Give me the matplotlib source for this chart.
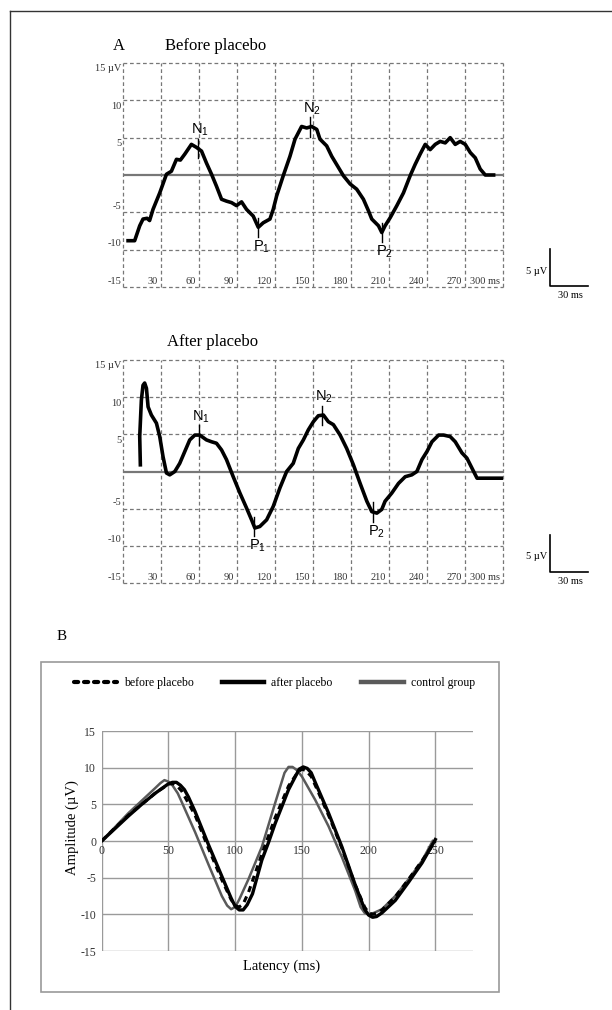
import numpy as np
import matplotlib
matplotlib.use("Agg")
from matplotlib import pyplot as plt
from matplotlib.lines import Line2D
from matplotlib.patches import Rectangle

plt.rcParams['font.family'] = ['Liberation Serif', 'DejaVu Serif']
plt.rcParams['axes.unicode_minus'] = False

# ---- panel A: single ERP traces (latency in ms, amplitude in uV) ----
before_lat = [4, 9.2, 13.2, 15.8, 19, 21, 23.7, 29, 34.3, 38.2, 42.2, 45.3, 48.8, 54, 58, 62,
              65.9, 69.9, 73.8, 77.8, 81.7, 85.7, 89.6, 93.6, 97.5, 102.8, 106.8, 110.7, 116,
              118.6, 121.3, 126.5, 131.8, 135.8, 141, 145, 149, 153, 155.5, 160.8, 164.8, 168.7,
              174, 179.3, 184.5, 189.8, 193.8, 196.4, 201.7, 204.3, 206.9, 211, 216.2, 221.4,
              226.7, 230.6, 234.6, 238.6, 242.5, 246.5, 250.4, 254.4, 258.3, 262.3, 266.2,
              270.2, 274.2, 278.1, 282, 286, 292.6]
before_amp = [-8.8, -8.8, -6.8, -5.9, -5.8, -6.1, -4.6, -2.4, 0.1, 0.5, 2.1, 2.0, 2.8, 4.1, 3.7,
              3.2, 1.6, 0.1, -1.5, -3.25, -3.5, -3.7, -4.1, -3.6, -4.6, -5.5, -7.0, -6.4, -5.9,
              -4.6, -2.8, -0.1, 2.5, 4.8, 6.5, 6.3, 6.5, 6.1, 4.8, 3.9, 2.5, 1.4, -0.1, -1.2,
              -1.9, -3.25, -4.8, -5.9, -6.8, -7.7, -6.8, -5.7, -4.1, -2.4, -0.1, 1.4, 2.8, 4.1,
              3.4, 4.1, 4.5, 4.3, 5.0, 4.1, 4.5, 4.1, 3.0, 2.3, 0.8, 0.0, 0.0]

after_lat = [13.7, 13.2, 14.5, 15.8, 17.1, 18.5, 19.8, 22.4, 26.4, 29, 31.6, 34.3, 36.9, 40.9,
             44.8, 48.8, 52.7, 56.7, 60.6, 65.9, 69.9, 73.8, 77.8, 81.7, 87, 92.3, 97.5, 101.5,
             104.1, 108, 113.4, 118.6, 123.9, 129.2, 134.4, 138.4, 142.4, 146.3, 150.3, 154.2,
             158.2, 162.1, 166.1, 171.4, 176.6, 181.9, 187.2, 192.5, 196.4, 200.4, 204.3, 206.9,
             212.2, 217.5, 222.8, 228, 232, 236, 240, 243.9, 249.2, 253.1, 258.3, 262.3, 267.6,
             271.5, 275.5, 279.5, 299.2]
after_amp = [0.9, 4.7, 9.6, 11.6, 11.9, 11.2, 8.7, 7.6, 6.5, 4.7, 2.0, -0.2, -0.45, 0.0, 1.1,
             2.7, 4.25, 4.9, 4.9, 4.25, 4.0, 3.8, 2.9, 1.6, -0.7, -2.9, -4.9, -6.5, -7.6, -7.4,
             -6.5, -4.7, -2.2, 0.0, 1.1, 3.1, 4.25, 5.6, 6.7, 7.5, 7.6, 6.7, 6.3, 4.9, 3.1, 0.9,
             -1.6, -4.0, -5.4, -5.6, -5.1, -4.0, -2.9, -1.6, -0.7, -0.45, 0.0, 1.6, 2.7, 4.0,
             4.9, 4.9, 4.7, 4.0, 2.5, 1.8, 0.45, -0.9, -0.9]

peak_names = ['N1', 'P1', 'N2', 'P2']
before_peaks = [59.3, 106.8, 147.6, 204.3]
after_peaks = [60.1, 103.6, 156.9, 197.7]

a_xticks = [30, 60, 90, 120, 150, 180, 210, 240, 270, 300]
a_yticks = [-15, -10, -5, 5, 10, 15]

# ---- panel B: grand average waveforms ----
ctrl_lat = [0, 10, 20, 30, 40, 44, 47, 50, 53, 57, 60, 70, 80, 90, 94, 97, 100, 103, 110, 120,
            130, 137, 140, 143, 146, 150, 160, 170, 180, 190, 194, 197, 200, 204, 210, 220, 230,
            240, 248]
ctrl_amp = [0, 1.9, 3.8, 5.5, 7.2, 7.9, 8.3, 8.1, 7.6, 6.5, 5.3, 1.2, -3.2, -7.5, -8.8, -9.3,
            -9.0, -8.0, -5.2, -0.8, 5.2, 9.3, 10.1, 10.1, 9.7, 8.8, 5.6, 2.0, -2.2, -6.8, -9.0,
            -9.8, -10.0, -9.8, -9.3, -7.5, -5.2, -2.7, 0.0]

after_b_lat = [0, 10, 20, 30, 40, 50, 53, 56, 59, 62, 65, 70, 80, 90, 97, 100, 103, 106, 109,
               113, 120, 125, 130, 140, 148, 151, 154, 157, 160, 170, 180, 190, 197, 200, 203,
               206, 210, 220, 230, 240, 250]
after_b_amp = [0, 1.7, 3.4, 5.0, 6.5, 7.8, 8.0, 8.0, 7.6, 7.0, 6.0, 4.0, -0.5, -4.8, -7.8, -8.9,
               -9.4, -9.4, -8.7, -7.2, -2.6, -0.2, 2.4, 7.0, 9.8, 10.1, 9.9, 9.3, 8.0, 3.8, -0.8,
               -6.0, -9.3, -10.1, -10.4, -10.3, -9.8, -8.1, -5.6, -3.0, 0.2]

before_b_lat = [0, 10, 20, 30, 40, 48, 51, 54, 57, 60, 70, 80, 90, 97, 100, 103, 106, 110, 120,
                130, 140, 147, 150, 153, 157, 160, 170, 180, 190, 197, 200, 203, 207, 210, 220,
                230, 240, 250]
before_b_amp = [0, 1.8, 3.5, 5.0, 6.5, 7.5, 7.8, 7.8, 7.4, 6.8, 3.5, -1.0, -5.3, -8.0, -8.8,
                -9.0, -8.6, -7.0, -1.8, 3.2, 7.5, 9.4, 9.8, 9.6, 8.8, 7.6, 3.5, -1.0, -6.0, -9.0,
                -9.8, -10.0, -9.8, -9.4, -7.6, -5.2, -2.7, 0.0]

b_xticks = [0, 50, 100, 150, 200, 250]
b_yticks = [-15, -10, -5, 0, 5, 10, 15]

W, H = 612, 1010


def fx(x):
    return x / W


def fy(y):
    return 1 - y / H


def erp_panel(ax, lat, amp, peaks, bar_bottom):
    ax.set_xlim(0, 300)
    ax.set_ylim(-15, 15)
    ax.set_axis_off()
    grid = dict(color='#777777', lw=0.9, ls=(0, (3, 2.2)), clip_on=False, zorder=1)
    ax.axvline(0, **grid)
    for t in a_xticks:
        ax.axvline(t, **grid)
    for v in a_yticks:
        ax.axhline(v, **grid)
    ax.axhline(0, color='#777777', lw=1.6, zorder=1)

    for t in a_xticks:
        lab = str(t) + (' ms' if t == 300 else '')
        ax.text(t - 2.5, -14.3, lab, ha='right', va='center', fontsize=7.5, color='#333333')
    for v in a_yticks:
        lab = '15 µV' if v == 15 else str(v)
        ax.text(-1.2, v - 0.8 if v > 0 else v + 0.8, lab, ha='right', va='center',
                fontsize=7.5, color='#333333')

    ax.plot(lat, amp, color='black', lw=2.6, solid_joinstyle='round', zorder=3)

    # peak markers
    for name, x in zip(peak_names, peaks):
        y = np.interp(x, lat, amp)
        ax.plot([x, x], [y - 1.3, y + 1.3], color='black', lw=1, zorder=4)
        lab = r'$\mathregular{%s_%s}$' % (name[0], name[1])
        if name[0] == 'N':
            ax.text(x + 1.5, y + 1.4, lab, ha='center', va='bottom', fontsize=10.5,
                    family='Liberation Sans')
        else:
            ax.text(x + 2.5, y - 1.5, lab, ha='center', va='top', fontsize=10.5,
                    family='Liberation Sans')

    # calibration bar
    ax.plot([337, 337, 367], [bar_bottom + 5, bar_bottom, bar_bottom], color='black', lw=1.2,
            clip_on=False)
    ax.text(335, bar_bottom + 2.0, '5 µV', ha='right', va='center', fontsize=7.5)
    ax.text(353, bar_bottom - 0.7, '30 ms', ha='center', va='top', fontsize=7.5)


fig = plt.figure(figsize=(W / 100, H / 100), dpi=100)

ax1 = fig.add_axes([fx(123), fy(287), fx(380), 224 / H])
ax2 = fig.add_axes([fx(123), fy(583), fx(380), 223 / H])
ax3 = fig.add_axes([fx(101.7), fy(951), fx(371), 220 / H])

erp_panel(ax1, before_lat, before_amp, before_peaks, -14.9)
erp_panel(ax2, after_lat, after_amp, after_peaks, -13.5)

fig.text(fx(113), fy(46), 'A', fontsize=12, va='center')
fig.text(fx(165), fy(46), 'Before placebo', fontsize=12, va='center')
fig.text(fx(167), fy(342), 'After placebo', fontsize=12, va='center')
fig.text(fx(57), fy(637), 'B', fontsize=11, va='center')

# panel B
ax3.set_xlim(0, 278)
ax3.set_ylim(-15, 15)
ax3.set_xticks(b_xticks)
ax3.set_yticks(b_yticks)
ax3.grid(True, color='#9a9a9a', lw=1)
for s in ax3.spines.values():
    s.set_visible(False)
ax3.spines['bottom'].set_position(('data', 0))
ax3.tick_params(length=0, labelsize=8.5, colors='#333333')
ax3.tick_params(axis='x', pad=3)
ax3.tick_params(axis='y', pad=4)
ax3.set_ylabel('Amplitude (µV)', fontsize=10.5)
ax3.yaxis.set_label_coords(-0.062, 0.56)
ax3.set_xlabel('Latency (ms)', fontsize=10.5)
ax3.xaxis.set_label_coords(0.485, -0.04)

ax3.plot(ctrl_lat, ctrl_amp, color='#5a5a5a', lw=1.8, zorder=3)
ax3.plot(after_b_lat, after_b_amp, color='black', lw=2.4, zorder=4)
ax3.plot(before_b_lat, before_b_amp, color='black', lw=2.2, ls=(0, (2, 1.6)), zorder=5)

handles = [
    Line2D([], [], color='black', lw=3, ls=(0, (1.0, 1.4)), dash_capstyle='round'),
    Line2D([], [], color='black', lw=3.2),
    Line2D([], [], color='#5a5a5a', lw=3.2),
]
fig.legend(handles, ['before placebo', 'after placebo', 'control group'], ncol=3,
           loc='center left', bbox_to_anchor=(fx(74), fy(683)), frameon=False,
           fontsize=8.5, handlelength=3.6, handletextpad=0.6, columnspacing=2.4,
           borderpad=0, borderaxespad=0)

# frames
fig.add_artist(Rectangle((fx(41), fy(992)), fx(458), 330 / H, transform=fig.transFigure,
                         fill=False, ec='#9a9a9a', lw=1.2))
fig.add_artist(Line2D([fx(10), 1], [fy(11), fy(11)], transform=fig.transFigure,
                      color='#333333', lw=1))
fig.add_artist(Line2D([fx(10), fx(10)], [fy(11), 0], transform=fig.transFigure,
                      color='#333333', lw=1))

fig.savefig('out.png', dpi=100)
